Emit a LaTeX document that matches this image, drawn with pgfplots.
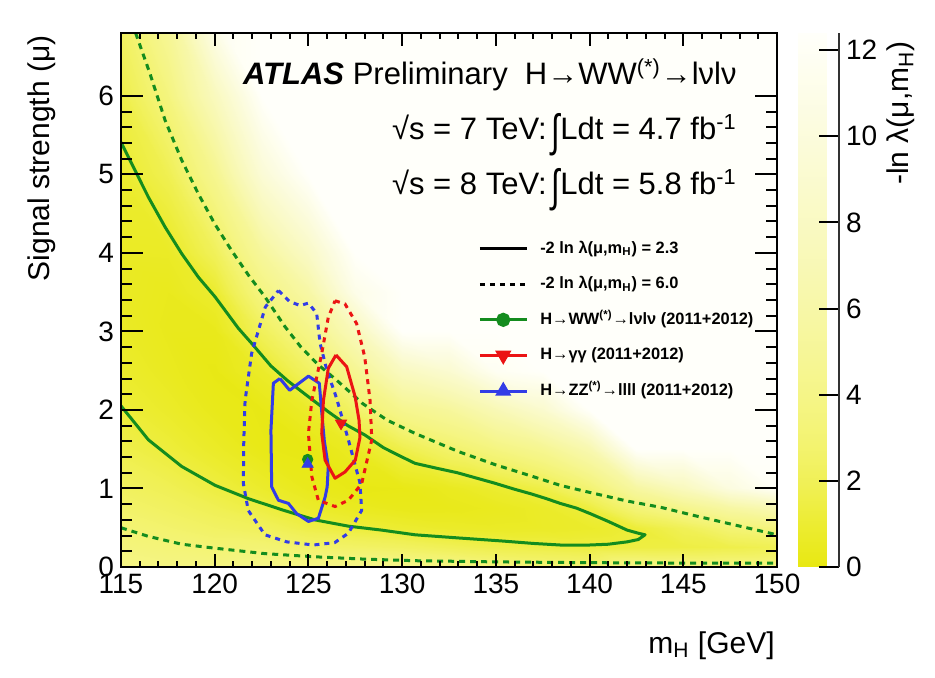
\documentclass[border=0pt]{standalone}
\usepackage{pgfplots}
\pgfplotsset{compat=1.18}
\usepackage{graphicx}
\usepackage{fontspec}
\setmainfont{Liberation Sans}
\definecolor{wwgreen}{RGB}{20,140,30}
\definecolor{hred}{RGB}{235,20,20}
\definecolor{hblue}{RGB}{50,60,230}
\newcommand{\Int}{\raisebox{-0.22em}{\scalebox{1}[1.45]{∫}}}
\pgfplotsset{frameaxis/.style={
  scale only axis, width=328pt, height=267pt,
  xmin=115, xmax=150, ymin=0, ymax=6.8,
  xtick={115,120,...,150}, ytick={0,1,...,6},
  minor x tick num=4, minor y tick num=4,
  tick align=inside, xtick pos=both, ytick pos=both,
  major tick length=6.5pt, minor tick length=3.2pt,
  tick style={draw=black, line width=1pt},
  ytick style={/pgfplots/major tick length=11pt,/pgfplots/minor tick length=5.5pt},
  ticklabel style={font=\fontsize{14}{14}\selectfont},
  /pgf/number format/assume math mode=true,
  axis line style={draw=black, line width=1.1pt},
}}
\begin{document}
\begin{tikzpicture}
\useasboundingbox (-60.5pt,-55.5pt) rectangle (407pt,283.5pt);
\begin{axis}[
  frameaxis,
  axis on top,
  colormap={atlas}{rgb255=(232,232,18) rgb255=(236,236,48) rgb255=(240,240,85) rgb255=(243,243,112) rgb255=(245,245,132) rgb255=(246,246,148) rgb255=(247,247,163) rgb255=(248,248,177) rgb255=(249,249,190) rgb255=(250,250,202) rgb255=(251,251,214) rgb255=(252,252,226) rgb255=(254,254,238) rgb255=(255,255,250)},
  point meta min=0, point meta max=12.4,
  colorbar,
  colorbar style={
    at={(parent axis.south east)}, anchor=south west, xshift=2pt,
    scale only axis, width=20.5pt, height=267pt,
    ytick={0,2,...,12}, minor y tick num=0,
    axis y line*=right, axis x line=none,
    tick align=inside, major tick length=10pt,
    ytick style={draw=black,line width=1pt},
    yticklabel style={font=\fontsize{14}{14}\selectfont},
    /pgf/number format/assume math mode=true,
    axis line style={line width=1pt, draw=black!80},
  },
  legend style={at={(0.544,0.611)}, anchor=north west, draw=none, fill=none,
    inner sep=0pt, row sep=10.3pt,
    font=\bfseries\fontsize{8.2}{9}\selectfont,
    nodes={inner sep=0pt, text height=6pt, text depth=1.5pt}},
  legend cell align=left,
  legend image code/.code={\draw[mark repeat=2,mark phase=2,#1] plot coordinates {(0pt,0pt) (11.75pt,0pt) (23.5pt,0pt)}; \path (29.5pt,0pt);},
]
\addplot[surf, shader=interp, mesh/cols=15, point meta=explicit, forget plot] table[x=x, y=y, meta=v, row sep=\\] {
x y v\\
115 0 3.91\\ 117.5 0 3.75\\ 120 0 3.68\\ 122.5 0 4.05\\ 125 0 3.94\\ 127.5 0 4.15\\ 130 0 4.22\\ 132.5 0 3.85\\ 135 0 3.40\\ 137.5 0 3.12\\ 140 0 2.99\\ 142.5 0 3.99\\ 145 0 3.75\\ 147.5 0 3.69\\ 150 0 3.66\\
115 0.25 3.45\\ 117.5 0.25 3.22\\ 120 0.25 3.00\\ 122.5 0.25 3.01\\ 125 0.25 2.63\\ 127.5 0.25 2.50\\ 130 0.25 2.30\\ 132.5 0.25 1.95\\ 135 0.25 1.64\\ 137.5 0.25 1.50\\ 140 0.25 1.35\\ 142.5 0.25 1.40\\ 145 0.25 1.44\\ 147.5 0.25 1.62\\ 150 0.25 1.90\\
115 0.5 3.03\\ 117.5 0.5 2.74\\ 120 0.5 2.40\\ 122.5 0.5 2.13\\ 125 0.5 1.59\\ 127.5 0.5 1.27\\ 130 0.5 0.98\\ 132.5 0.5 0.76\\ 135 0.5 0.65\\ 137.5 0.5 0.69\\ 140 0.5 0.80\\ 142.5 0.5 1.17\\ 145 0.5 1.95\\ 147.5 0.5 3.00\\ 150 0.5 3.53\\
115 0.75 2.65\\ 117.5 0.75 2.30\\ 120 0.75 1.86\\ 122.5 0.75 1.40\\ 125 0.75 0.81\\ 127.5 0.75 0.47\\ 130 0.75 0.25\\ 132.5 0.75 0.26\\ 135 0.75 0.41\\ 137.5 0.75 0.72\\ 140 0.75 1.35\\ 142.5 0.75 3.15\\ 145 0.75 4.25\\ 147.5 0.75 5.66\\ 150 0.75 6.76\\
115 1 2.29\\ 117.5 1 1.90\\ 120 1 1.40\\ 122.5 1 0.82\\ 125 1 0.29\\ 127.5 1 0.08\\ 130 1 0.12\\ 132.5 1 0.45\\ 135 1 0.92\\ 137.5 1 1.59\\ 140 1 2.99\\ 142.5 1 5.60\\ 145 1 7.60\\ 147.5 1 10.3\\ 150 1 12.1\\
115 1.5 1.68\\ 117.5 1.5 1.24\\ 120 1.5 0.68\\ 122.5 1.5 0.14\\ 125 1.5 0.03\\ 127.5 1.5 0.54\\ 130 1.5 1.65\\ 132.5 1.5 2.64\\ 135 1.5 3.60\\ 137.5 1.5 4.60\\ 140 1.5 6.60\\ 142.5 1.5 12.4\\ 145 1.5 12.4\\ 147.5 1.5 12.4\\ 150 1.5 12.4\\
115 2 1.21\\ 117.5 2 0.75\\ 120 2 0.24\\ 122.5 2 0.09\\ 125 2 0.71\\ 127.5 2 2.52\\ 130 2 4.35\\ 132.5 2 5.20\\ 135 2 6.96\\ 137.5 2 8.90\\ 140 2 12.4\\ 142.5 2 12.4\\ 145 2 12.4\\ 147.5 2 12.4\\ 150 2 12.4\\
115 2.5 0.86\\ 117.5 2.5 0.44\\ 120 2.5 0.08\\ 122.5 2.5 0.74\\ 125 2.5 2.30\\ 127.5 2.5 4.64\\ 130 2.5 7.80\\ 132.5 2.5 9.10\\ 135 2.5 11.8\\ 137.5 2.5 12.4\\ 140 2.5 12.4\\ 142.5 2.5 12.4\\ 145 2.5 12.4\\ 147.5 2.5 12.4\\ 150 2.5 12.4\\
115 3 0.65\\ 117.5 3 0.31\\ 120 3 0.29\\ 122.5 3 2.11\\ 125 3 3.98\\ 127.5 3 7.40\\ 130 3 12.4\\ 132.5 3 12.4\\ 135 3 12.4\\ 137.5 3 12.4\\ 140 3 12.4\\ 142.5 3 12.4\\ 145 3 12.4\\ 147.5 3 12.4\\ 150 3 12.4\\
115 3.5 0.57\\ 117.5 3.5 0.36\\ 120 3.5 0.95\\ 122.5 3.5 3.65\\ 125 3.5 5.84\\ 127.5 3.5 11.0\\ 130 3.5 12.4\\ 132.5 3.5 12.4\\ 135 3.5 12.4\\ 137.5 3.5 12.4\\ 140 3.5 12.4\\ 142.5 3.5 12.4\\ 145 3.5 12.4\\ 147.5 3.5 12.4\\ 150 3.5 12.4\\
115 4 0.60\\ 117.5 4 0.63\\ 120 4 2.08\\ 122.5 4 5.20\\ 125 4 8.20\\ 127.5 4 12.4\\ 130 4 12.4\\ 132.5 4 12.4\\ 135 4 12.4\\ 137.5 4 12.4\\ 140 4 12.4\\ 142.5 4 12.4\\ 145 4 12.4\\ 147.5 4 12.4\\ 150 4 12.4\\
115 5 0.92\\ 117.5 5 1.84\\ 120 5 4.50\\ 122.5 5 9.50\\ 125 5 12.4\\ 127.5 5 12.4\\ 130 5 12.4\\ 132.5 5 12.4\\ 135 5 12.4\\ 137.5 5 12.4\\ 140 5 12.4\\ 142.5 5 12.4\\ 145 5 12.4\\ 147.5 5 12.4\\ 150 5 12.4\\
115 6 1.55\\ 117.5 6 3.52\\ 120 6 7.60\\ 122.5 6 12.4\\ 125 6 12.4\\ 127.5 6 12.4\\ 130 6 12.4\\ 132.5 6 12.4\\ 135 6 12.4\\ 137.5 6 12.4\\ 140 6 12.4\\ 142.5 6 12.4\\ 145 6 12.4\\ 147.5 6 12.4\\ 150 6 12.4\\
115 7 2.52\\ 117.5 7 5.16\\ 120 7 11.6\\ 122.5 7 12.4\\ 125 7 12.4\\ 127.5 7 12.4\\ 130 7 12.4\\ 132.5 7 12.4\\ 135 7 12.4\\ 137.5 7 12.4\\ 140 7 12.4\\ 142.5 7 12.4\\ 145 7 12.4\\ 147.5 7 12.4\\ 150 7 12.4\\
};
% WW solid contour
\addplot[wwgreen, line width=1.5pt, line join=round, forget plot] coordinates {
(115,5.41) (115.75,5.05) (116.46,4.71) (117.35,4.33) (118.24,3.99) (119.13,3.69) (120.02,3.44) (121.26,3.04) (122.0,2.84) (123.0,2.56) (123.9,2.37) (125.1,2.15) (126.1,1.97) (127.1,1.80) (128.02,1.68) (129.0,1.52) (130.0,1.40) (130.69,1.32) (131.8,1.26) (132.95,1.20) (134.0,1.13) (134.9,1.07) (136.0,0.99) (136.9,0.93) (137.7,0.87) (138.43,0.81) (139.3,0.75) (140.03,0.68) (141.0,0.58) (142.0,0.47) (142.6,0.43) (142.96,0.41) (142.6,0.35) (142.0,0.32) (141.0,0.29) (140.0,0.28) (138.43,0.28) (137.0,0.30) (135.4,0.33) (133.0,0.37) (130.69,0.41) (128.9,0.47) (127.13,0.52) (125.35,0.60) (123.57,0.73) (121.8,0.87) (120.02,1.04) (118.24,1.28) (116.46,1.62) (115.04,2.04) (115,2.05)
};
% WW dashed contour (upper)
\addplot[wwgreen, line width=1.5pt, dash pattern=on 3pt off 2.5pt, forget plot] coordinates {
(115.78,6.8) (116.55,6.28) (117.35,5.69) (118.24,5.18) (119.13,4.75) (120.0,4.37) (120.9,4.03) (121.79,3.72) (122.68,3.44) (123.75,3.06) (124.6,2.80) (125.5,2.58) (126.5,2.38) (127.9,2.08) (129.2,1.87) (130.7,1.70) (133,1.47) (135,1.30) (137,1.15) (138.43,1.04) (140,0.95) (142,0.84) (143.8,0.76) (145.5,0.66) (147.3,0.56) (150,0.41)
};
% WW dashed contour (lower)
\addplot[wwgreen, line width=1.5pt, dash pattern=on 3pt off 2.5pt, forget plot] coordinates {
(115,0.50) (116.46,0.39) (118.24,0.29) (120.0,0.24) (122.68,0.17) (125.35,0.13) (128.0,0.10) (130.69,0.08) (135,0.065) (140,0.055) (145,0.05) (150,0.05)
};
% ZZ dashed
\addplot[hblue, line width=1.5pt, dash pattern=on 2.5pt off 2.5pt, forget plot] coordinates {
(123.4,3.52) (124.0,3.38) (124.55,3.33) (125.0,3.36) (125.44,3.23) (125.62,2.85) (125.98,2.51) (126.5,2.15) (127.13,1.62) (127.75,1.07) (127.84,0.72) (127.13,0.43) (126.4,0.31) (125.26,0.28) (123.84,0.32) (122.68,0.41) (121.79,0.72) (121.53,1.06) (121.55,1.60) (121.62,2.12) (121.97,2.72) (122.7,3.31) (123.4,3.52)
};
% ZZ solid
\addplot[hblue, line width=1.5pt, line join=round, forget plot] coordinates {
(123.48,2.40) (124.0,2.25) (125.0,2.43) (125.58,2.34) (125.7,2.0) (125.85,1.6) (126.06,1.28) (126.0,1.02) (125.89,0.89) (125.53,0.62) (125.0,0.58) (124.37,0.68) (123.93,0.81) (123.4,0.85) (123.04,1.02) (123.0,1.74) (123.13,2.34) (123.48,2.40)
};
% gamma gamma dashed
\addplot[hred, line width=1.5pt, dash pattern=on 2.5pt off 2.5pt, forget plot] coordinates {
(126.42,3.39) (126.95,3.35) (127.57,3.10) (128.0,2.68) (128.29,2.12) (128.38,1.62) (127.84,1.06) (127.13,0.85) (126.42,0.77) (125.53,0.85) (125.18,1.15) (125.0,1.70) (125.18,2.12) (125.71,2.72) (126.06,3.18) (126.42,3.39)
};
% gamma gamma solid
\addplot[hred, line width=1.5pt, line join=round, forget plot] coordinates {
(126.47,2.70) (127.04,2.55) (127.49,2.17) (127.7,1.87) (127.75,1.65) (127.5,1.36) (126.95,1.21) (126.42,1.13) (125.89,1.36) (125.71,1.70) (125.8,2.12) (126.06,2.53) (126.47,2.70)
};
% best-fit markers
\addplot[only marks, mark=*, mark size=2.6pt, wwgreen, forget plot] coordinates {(124.96,1.37)};
\addplot[only marks, mark=triangle*, mark size=3.2pt, hblue, forget plot] coordinates {(124.96,1.31)};
\addplot[only marks, mark=triangle*, mark size=3.2pt, mark options={rotate=180}, hred, forget plot] coordinates {(126.74,1.83)};
% legend
\addlegendimage{black, line width=1.5pt}
\addlegendentry{-2 ln λ(μ,m\textsubscript{H}) = 2.3}
\addlegendimage{black, line width=1.5pt, dash pattern=on 2.5pt off 2.5pt}
\addlegendentry{-2 ln λ(μ,m\textsubscript{H}) = 6.0}
\addlegendimage{wwgreen, line width=1.5pt, mark=*, mark size=2.8pt}
\addlegendentry{H→WW\textsuperscript{(*)}→lνlν (2011+2012)}
\addlegendimage{hred, line width=1.5pt, mark=triangle*, mark size=3.2pt, mark options={rotate=180}}
\addlegendentry{H→γγ (2011+2012)}
\addlegendimage{hblue, line width=1.5pt, mark=triangle*, mark size=3.2pt}
\addlegendentry{H→ZZ\textsuperscript{(*)}→llll (2011+2012)}
\end{axis}
% overlay frame axis: ticks and frame drawn on top of the heat map
\begin{axis}[frameaxis, xticklabels={}, yticklabels={}]
\end{axis}
% texts
\node[anchor=base east, font=\fontsize{15.5}{18}\selectfont, inner sep=0pt] at (308pt,241pt)
  {{\bfseries\itshape ATLAS} Preliminary\ \ H→WW\textsuperscript{(*)}→lνlν};
\node[anchor=base east, font=\fontsize{15.5}{18}\selectfont, inner sep=0pt] at (308pt,213.5pt)
  {√s = 7 TeV:\,\Int Ldt = 4.7 fb\textsuperscript{-1}};
\node[anchor=base east, font=\fontsize{15.5}{18}\selectfont, inner sep=0pt] at (308pt,186pt)
  {√s = 8 TeV:\,\Int Ldt = 5.8 fb\textsuperscript{-1}};
\node[anchor=base east, font=\fontsize{15}{18}\selectfont, inner sep=0pt] at (327pt,-43pt)
  {m\textsubscript{H} [GeV]};
\node[rotate=90, anchor=east, font=\fontsize{15}{18}\selectfont, inner sep=0pt] at (-39.5pt,266pt)
  {Signal strength (μ)};
\node[rotate=90, anchor=east, font=\fontsize{15}{18}\selectfont, inner sep=0pt] at (390pt,263pt)
  {-ln λ(μ,m\textsubscript{H})};
\end{tikzpicture}
\end{document}
